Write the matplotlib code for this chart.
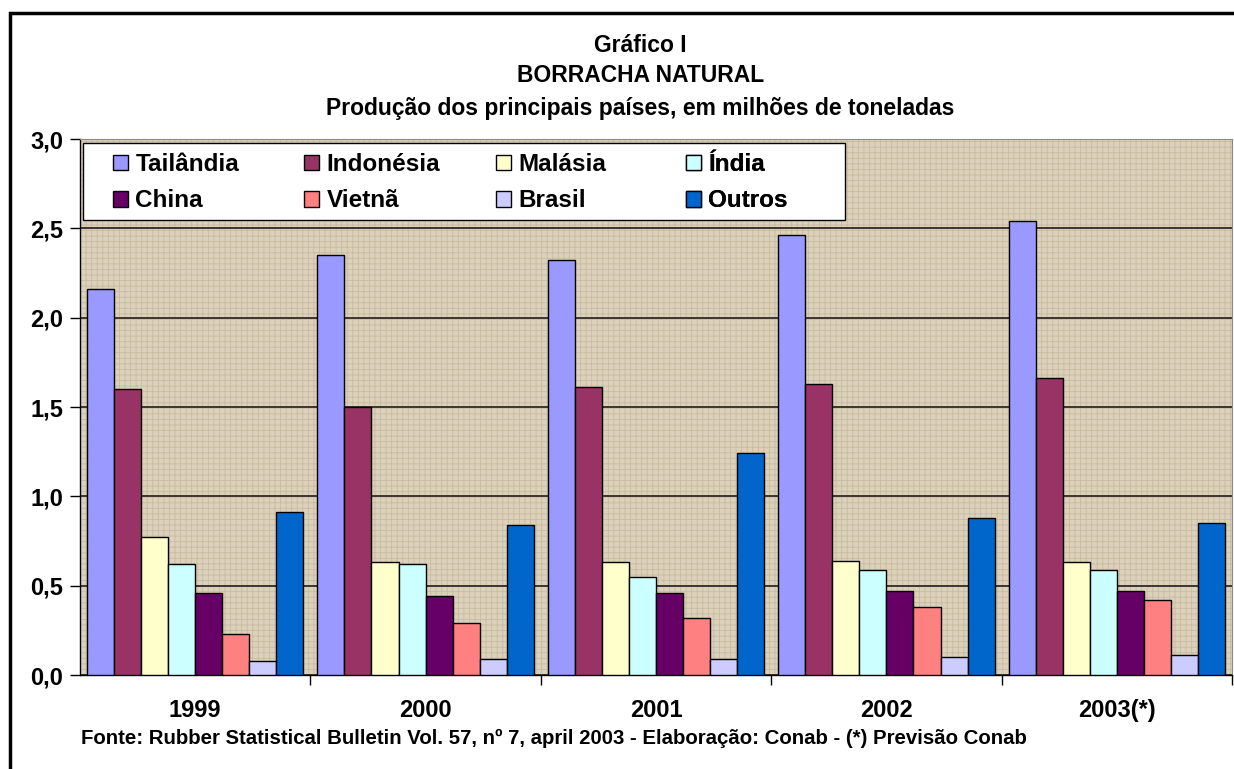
import matplotlib
matplotlib.use("Agg")
import matplotlib.pyplot as plt
from matplotlib.patches import Rectangle
import numpy as np

plt.rcParams['font.family'] = ['Liberation Sans', 'DejaVu Sans']
plt.rcParams['font.weight'] = 'bold'
plt.rcParams['hatch.linewidth'] = 0.6

anos = ['1999', '2000', '2001', '2002', '2003(*)']
paises = ['Tailândia', 'Indonésia', 'Malásia', 'Índia', 'China', 'Vietnã', 'Brasil', 'Outros']
tailandia = [2.16, 2.35, 2.32, 2.46, 2.54]
indonesia = [1.60, 1.50, 1.61, 1.63, 1.66]
malasia = [0.77, 0.63, 0.63, 0.64, 0.63]
india = [0.62, 0.62, 0.55, 0.59, 0.59]
china = [0.46, 0.44, 0.46, 0.47, 0.47]
vietna = [0.23, 0.29, 0.32, 0.38, 0.42]
brasil = [0.08, 0.09, 0.09, 0.10, 0.11]
outros = [0.91, 0.84, 1.24, 0.88, 0.85]
series = [tailandia, indonesia, malasia, india, china, vietna, brasil, outros]
cores = ['#9999FF', '#993366', '#FFFFCC', '#CCFFFF', '#660066', '#FF8080', '#CCCCFF', '#0066CC']

fig = plt.figure(figsize=(12.34, 7.69), dpi=100)
ax = fig.add_axes([80/1234, 1-675/769, 1152/1234, 536/769])

# textured tan background
ax.set_facecolor('#DCD1BA')
ax.add_patch(Rectangle((0, 0), 1, 1, transform=ax.transAxes, facecolor='none',
                       edgecolor='#C8BBA1', hatch='+++', lw=0, zorder=0))

x = np.arange(len(anos))
w = 0.1175
handles = []
for i, (nome, vals, cor) in enumerate(zip(paises, series, cores)):
    b = ax.bar(x + (i - 3.5) * w, vals, width=w, color=cor, edgecolor='black',
               linewidth=1.0, label=nome, zorder=3)
    handles.append(b)

ax.set_xlim(-0.5, 4.5)
ax.set_ylim(0, 3.0)
yt = np.arange(0, 3.01, 0.5)
ax.set_yticks(yt)
ax.set_yticklabels([f'{v:.1f}'.replace('.', ',') for v in yt])
ax.yaxis.grid(True, color='#3A3630', linewidth=1.4, zorder=1)
ax.set_axisbelow(True)

ax.set_xticks(x)
ax.set_xticklabels(anos)
ax.set_xticks(np.arange(0.5, 4.6, 1.0), minor=True)
ax.tick_params(axis='x', which='major', length=0, pad=17, labelsize=17)
ax.tick_params(axis='x', which='minor', length=7, width=1, direction='out')
ax.tick_params(axis='y', length=7, width=1, direction='out', pad=5, labelsize=17)

for s in ['top', 'right']:
    ax.spines[s].set_color('#8A8A8A')
for s in ['left', 'bottom']:
    ax.spines[s].set_color('black')
    ax.spines[s].set_linewidth(1.0)

# legend box and its four columns
ax.add_patch(Rectangle(((83-80)/1152, (675-220)/536), (845-83)/1152, 77/536,
                       transform=ax.transAxes, facecolor='white', edgecolor='black',
                       linewidth=1.0, zorder=4))
col_x = [113, 304, 496, 686]
for c in range(4):
    leg = ax.legend([handles[c], handles[c+4]], [paises[c], paises[c+4]],
                    loc='upper left', bbox_to_anchor=((col_x[c]-80)/1152, (675-153)/536),
                    borderaxespad=0, borderpad=0, frameon=False,
                    prop={'weight': 'bold', 'size': 17.5}, handlelength=0.62,
                    handleheight=0.62, handletextpad=0.3, labelspacing=0.55)
    leg.set_zorder(5)
    ax.add_artist(leg)

fig.text(0.519, 1-45/769, 'Gráfico I', ha='center', va='center', fontsize=16.5, weight='bold')
fig.text(0.519, 1-76/769, 'BORRACHA NATURAL', ha='center', va='center', fontsize=16.5, weight='bold')
fig.text(0.519, 1-108/769, 'Produção dos principais países, em milhões de toneladas',
         ha='center', va='center', fontsize=16.5, weight='bold')
fig.text(81/1234, 1-738/769,
         'Fonte: Rubber Statistical Bulletin Vol. 57, nº 7, april 2003 - Elaboração: Conab - (*) Previsão Conab',
         ha='left', va='center', fontsize=14.7, weight='bold')

# outer chart border (left and top visible)
fig.patches.append(Rectangle((10/1234, -0.5), 2, 1.5 - 13/769, transform=fig.transFigure,
                             facecolor='none', edgecolor='black', linewidth=2.5))

fig.savefig('out.png', dpi=100)
